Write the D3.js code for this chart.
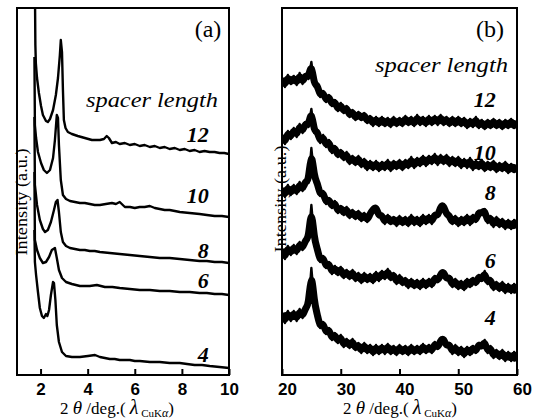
<!DOCTYPE html>
<html>
<head>
<meta charset="utf-8">
<script src="https://cdn.jsdelivr.net/npm/d3@7"></script>
<style>
  body { margin: 0; background: #fff; }
</style>
</head>
<body>
<div id="chart"></div>
<script>

// ---- panel (a): low angle, [2theta, intensity] ----
var lowAngle12 = [[1.76,390],[1.78,330],[1.80,312],[1.85,297],[1.93,282],[2.02,269],[2.10,260],[2.23,254],[2.31,253],[2.40,256],[2.53,265],[2.65,280],[2.74,297],[2.82,320],[2.86,335],[2.91,323],[2.95,285],[2.99,255],[3.06,247],[3.16,243],[3.33,241],[3.58,239],[3.88,237],[4.18,235],[4.52,235],[4.69,236],[4.81,239],[4.90,237],[5.03,232],[5.20,233],[5.36,231],[5.58,232],[5.79,230],[6.00,231],[6.21,229],[6.42,230],[6.64,228],[6.85,229],[7.06,227],[7.27,228],[7.48,226],[7.70,227],[7.91,225],[8.12,226],[8.33,224],[8.54,225],[8.75,223],[8.96,224],[9.18,223],[9.39,223],[9.60,222],[9.80,222],[10,221]];
var lowAngle10 = [[1.74,318],[1.76,250],[1.81,237],[1.89,223],[2.02,212],[2.14,205],[2.27,202],[2.40,205],[2.53,217],[2.61,235],[2.69,260],[2.74,257],[2.78,230],[2.86,195],[2.95,180],[3.08,176],[3.25,174],[3.46,173],[3.67,172],[3.88,172],[4.09,171],[4.30,170],[4.52,170],[4.77,171],[5.03,172],[5.20,171],[5.36,173],[5.58,168],[5.80,168],[6.00,167],[6.21,168],[6.42,168],[6.64,169],[6.85,167],[7.06,166],[7.27,165],[7.48,165],[7.70,164],[7.91,163],[8.33,162],[8.75,161],[9.06,160],[9.39,159],[9.70,159],[10,158]];
var lowAngle8 = [[1.74,258],[1.76,190],[1.85,170],[1.97,155],[2.10,146],[2.19,143],[2.31,145],[2.44,153],[2.57,165],[2.65,173],[2.72,175],[2.78,163],[2.86,143],[2.95,133],[3.08,129],[3.25,127],[3.46,126],[3.67,125],[3.88,125],[4.09,124],[4.30,124],[4.52,123],[4.94,122],[5.36,121],[5.79,120],[6.21,119],[6.64,118],[7.06,117],[7.48,117],[7.91,116],[8.33,115],[8.75,114],[9.06,114],[9.39,113],[9.70,113],[10,112]];
var lowAngle6 = [[1.74,203],[1.76,135],[1.85,125],[1.97,117],[2.10,112],[2.23,113],[2.36,118],[2.48,125],[2.61,127],[2.69,117],[2.78,105],[2.91,97],[3.08,93],[3.33,91],[3.67,89],[4.09,89],[4.39,90],[4.73,88],[5.05,88],[5.36,87],[5.79,86],[6.21,85],[6.64,85],[7.06,84],[7.48,84],[7.91,83],[8.33,83],[8.75,82],[9.06,82],[9.39,81],[9.70,81],[10,80]];
var lowAngle4 = [[1.74,145],[1.76,113],[1.81,100],[1.89,83],[1.97,67],[2.06,59],[2.14,57],[2.23,61],[2.29,59],[2.36,65],[2.44,80],[2.53,93],[2.57,92],[2.63,75],[2.69,50],[2.78,33],[2.91,23],[3.08,19],[3.33,18],[3.67,18],[4.01,19],[4.31,20],[4.52,18],[4.73,17],[4.94,16],[5.15,16],[5.36,15],[5.79,15],[6.00,14],[6.21,14],[6.64,13],[7.06,13],[7.48,12],[7.91,12],[8.22,11],[8.54,10],[8.86,10],[9.18,9],[9.60,8],[10,7]];

// ---- panel (b): wide angle, intensity every 0.5 deg from 20 to 60 ----
var twoThetaB = d3.range(81).map(function(i){ return 20 + i * 0.5; });
var wideAngle12 = [297,288,300,291,299,290,302,291,301,296, 313,289,291,278,284,273,280,269,275,264, 272,262,269,258,265,255,263,255,262,252, 259,249,258,249,258,249,257,248,258,249, 257,249,259,250,258,249,260,250,258,249, 259,250,259,250,260,250,258,249,258,249, 258,249,257,247,256,248,258,247,255,246, 255,247,256,247,255,246,255,247,256,247, 254];
var wideAngle10 = [240,231,244,236,247,238,251,242,253,248, 266,242,245,232,240,228,235,222,229,218, 225,215,223,211,219,210,219,208,216,205, 214,205,214,204,213,205,215,204,214,206, 215,205,215,207,218,207,217,209,219,209, 219,211,221,210,220,211,220,209,218,209, 218,207,216,207,217,205,214,206,215,204, 213,205,214,203,212,204,213,202,211,203, 210];
var wideAngle8 = [187,178,190,180,190,181,193,184,195,192, 227,197,193,179,184,171,177,167,174,162, 169,160,168,157,165,156,164,154,162,153, 162,165,169,158,161,151,160,151,158,149, 159,150,158,149,160,150,158,149,160,151, 160,151,162,158,169,170,160,160,151,159, 149,158,150,160,150,160,153,164,161,166, 152,159,148,158,148,156,146,155,146,155, 147];
var wideAngle6 = [125,116,129,120,130,121,133,125,136,135, 170,135,127,113,119,107,113,101,109,100, 108,97,105,96,105,94,102,92,102,93, 101,92,103,94,104,96,106,95,102,91, 100,90,97,87,96,87,95,86,96,87, 96,88,99,93,101,104,95,99,88,96, 86,94,85,96,88,97,90,100,94,104, 91,97,85,93,84,93,82,91,82,91, 82];
var wideAngle4 = [62,52,64,54,64,54,66,57,68,68, 107,72,61,47,53,41,47,35,42,32, 40,28,36,27,36,25,32,22,32,22, 30,20,30,21,30,21,31,21,29,20, 30,21,29,20,30,21,29,21,31,22, 30,22,33,26,35,37,28,32,21,30, 20,28,18,28,20,29,22,32,27,35, 22,29,17,25,16,25,14,23,14,23, 14];

var spacerLengths = ["12", "10", "8", "6", "4"];
var ticksA = [2, 4, 6, 8, 10];
var ticksB = [20, 30, 40, 50, 60];
// label anchor points [2theta, intensity] for each spacer number
var labelPosA = [[9.14,233],[9.14,172],[9.14,117],[9.14,87],[9.14,13]];
var labelPosB = [[56.4,268],[56.4,215],[56.4,175],[56.4,107],[56.4,50]];

var serif = "Liberation Serif, Times New Roman, serif";
var sans = "Liberation Sans, Arial, sans-serif";

var svg = d3.select("#chart").append("svg")
  .attr("width", 533)
  .attr("height", 419);

function pairs(vals){ return vals.map(function(v, i){ return [twoThetaB[i], v]; }); }

function panel(o){
  var x = d3.scaleLinear().domain(o.xDomain).range([o.left, o.right]);
  var y = d3.scaleLinear().domain([0, 367]).range([o.bottom, o.bottom - 367]);
  var g = svg.append("g");

  g.append("clipPath").attr("id", "clip-" + o.id)
    .append("rect")
    .attr("x", o.left).attr("y", o.top)
    .attr("width", o.right - o.left).attr("height", o.bottom - o.top);

  var line = d3.line().x(function(d){ return x(d[0]); }).y(function(d){ return y(d[1]); });
  var plot = g.append("g").attr("clip-path", "url(#clip-" + o.id + ")");

  // noisy scans: a smoothed band under the raw trace
  if (o.band) {
    plot.selectAll("path.band").data(o.curves).enter().append("path")
      .attr("class", "band")
      .attr("d", line.curve(d3.curveBasis))
      .attr("fill", "none")
      .attr("stroke", "#000")
      .attr("stroke-width", o.band);
    line.curve(d3.curveLinear);
  }

  plot.selectAll("path.trace").data(o.curves).enter().append("path")
    .attr("class", "trace")
    .attr("d", line)
    .attr("fill", "none")
    .attr("stroke", "#000")
    .attr("stroke-width", o.lineWidth)
    .attr("stroke-linejoin", "round");

  // frame
  g.append("rect")
    .attr("x", o.left).attr("y", o.top)
    .attr("width", o.right - o.left).attr("height", o.bottom - o.top)
    .attr("fill", "none").attr("stroke", "#000").attr("stroke-width", 2);

  var axis = d3.axisBottom(x).tickValues(o.ticks).tickSizeInner(-6).tickSizeOuter(0).tickPadding(8);
  var ax = g.append("g").attr("transform", "translate(0," + o.bottom + ")").call(axis);
  ax.select(".domain").remove();
  ax.selectAll(".tick line").attr("stroke", "#000").attr("stroke-width", 2);
  ax.selectAll(".tick text")
    .attr("font-family", sans).attr("font-weight", "bold").attr("font-size", 17)
    .attr("fill", "#000").attr("dx", o.tickDx);

  // x title: 2θ /deg.(λ CuKα)
  var t = g.append("text")
    .attr("x", o.titleX).attr("y", 414)
    .attr("text-anchor", "middle")
    .attr("font-family", serif).attr("font-size", 17).attr("fill", "#000");
  t.append("tspan").text("2 ");
  t.append("tspan").attr("font-style", "italic").attr("font-size", 19).text("θ");
  t.append("tspan").text(" /deg.( ");
  t.append("tspan").attr("font-style", "italic").attr("font-size", 20).text("λ");
  t.append("tspan").attr("font-size", 11).attr("dy", 3).text(" CuK");
  t.append("tspan").attr("font-size", 12).attr("font-style", "italic").text("α");
  t.append("tspan").attr("dy", -3).text(")");

  // panel tag
  g.append("text")
    .attr("x", o.tagX).attr("y", 37)
    .attr("text-anchor", "middle")
    .attr("font-family", serif).attr("font-size", 24).attr("fill", "#000")
    .text(o.tag);

  g.append("text")
    .attr("x", o.spacerX).attr("y", o.spacerY)
    .attr("textLength", o.spacerW).attr("lengthAdjust", "spacingAndGlyphs")
    .attr("font-family", serif).attr("font-style", "italic").attr("font-size", 22)
    .attr("fill", "#000")
    .text("spacer length");

  g.selectAll("text.num").data(spacerLengths).enter().append("text")
    .attr("class", "num")
    .attr("x", function(d, i){ return x(o.labelPos[i][0]); })
    .attr("y", function(d, i){ return y(o.labelPos[i][1]); })
    .attr("text-anchor", "end")
    .attr("font-family", serif).attr("font-style", "italic").attr("font-weight", "bold")
    .attr("font-size", 22).attr("fill", "#000")
    .text(function(d){ return d; });

  g.append("text")
    .attr("transform", "translate(" + o.yLabelX + "," + o.yLabelY + ") rotate(-90)")
    .attr("text-anchor", "middle").attr("dominant-baseline", "central")
    .attr("textLength", 107).attr("lengthAdjust", "spacingAndGlyphs")
    .attr("font-family", serif).attr("font-size", 17).attr("fill", "#000")
    .text("Intensity (a.u.)");
}

panel({
  id: "a", xDomain: [1, 10], left: 17, right: 229, top: 8, bottom: 375,
  curves: [lowAngle12, lowAngle10, lowAngle8, lowAngle6, lowAngle4],
  lineWidth: 2.4, band: 0, ticks: ticksA, tickDx: 0, titleX: 117,
  tag: "(a)", tagX: 208, spacerX: 86, spacerY: 107, spacerW: 132,
  labelPos: labelPosA, yLabelX: 21, yLabelY: 202
});

panel({
  id: "b", xDomain: [20, 60], left: 282, right: 517, top: 8, bottom: 375,
  curves: [wideAngle12, wideAngle10, wideAngle8, wideAngle6, wideAngle4].map(pairs),
  lineWidth: 2.4, band: 7, ticks: ticksB, tickDx: 5, titleX: 400,
  tag: "(b)", tagX: 490, spacerX: 375, spacerY: 72, spacerW: 133,
  labelPos: labelPosB, yLabelX: 280, yLabelY: 199
});

</script>
</body>
</html>
